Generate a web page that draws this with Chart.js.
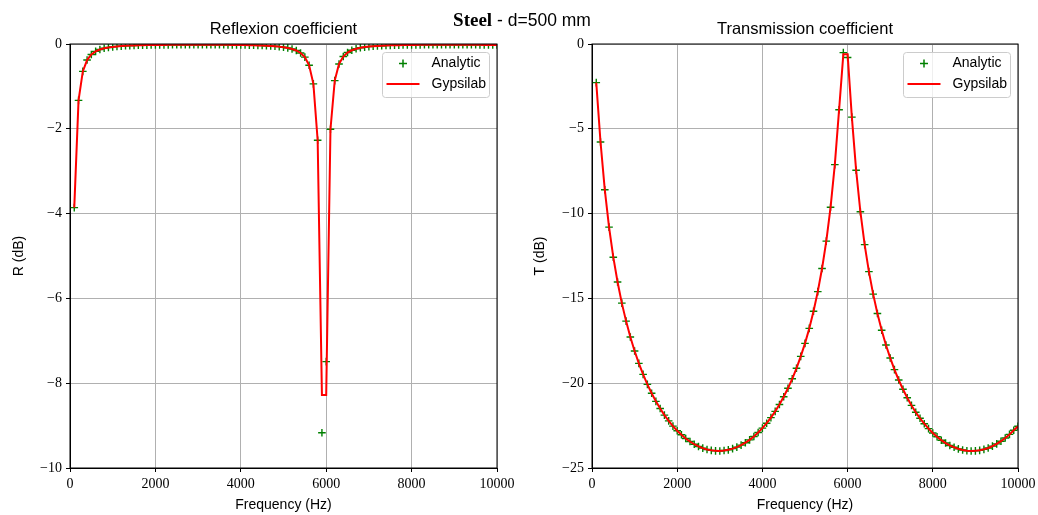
<!DOCTYPE html>
<html>
<head>
<meta charset="utf-8">
<title>Steel - d=500 mm</title>
<script src="https://cdn.jsdelivr.net/npm/chart.js@4.4.1/dist/chart.umd.min.js"></script>
<style>
  html, body { margin: 0; padding: 0; background: #fff; }
  #figure { position: relative; width: 1038px; height: 515px; background: #fff; }
  .panel { position: absolute; top: 0; width: 519px; height: 515px; }
  #suptitle {
    position: absolute; top: 9px; left: 522px; transform: translateX(-50%);
    white-space: nowrap; line-height: 22px; font-family: "Liberation Sans", sans-serif;
    font-size: 17.5px; color: #000; z-index: 2;
  }
  #suptitle b { font-family: "Liberation Serif", serif; font-size: 19px; }
</style>
</head>
<body>
<div id="figure">
  <div class="panel" style="left:0"><canvas id="reflChart"></canvas></div>
  <div class="panel" style="left:519px"><canvas id="transChart"></canvas></div>
  <div id="suptitle"><b>Steel</b> - d=500 mm</div>
</div>
<script>
// frequency grid (Hz)
const freqs = [
  100, 200, 300, 400, 500, 600, 700, 800, 900, 1000,
  1100, 1200, 1300, 1400, 1500, 1600, 1700, 1800, 1900, 2000,
  2100, 2200, 2300, 2400, 2500, 2600, 2700, 2800, 2900, 3000,
  3100, 3200, 3300, 3400, 3500, 3600, 3700, 3800, 3900, 4000,
  4100, 4200, 4300, 4400, 4500, 4600, 4700, 4800, 4900, 5000,
  5100, 5200, 5300, 5400, 5500, 5600, 5700, 5800, 5900, 6000,
  6100, 6200, 6300, 6400, 6500, 6600, 6700, 6800, 6900, 7000,
  7100, 7200, 7300, 7400, 7500, 7600, 7700, 7800, 7900, 8000,
  8100, 8200, 8300, 8400, 8500, 8600, 8700, 8800, 8900, 9000,
  9100, 9200, 9300, 9400, 9500, 9600, 9700, 9800, 9900, 10000
];

// reflexion coefficient R (dB)
const analyticR = [
  -3.86, -1.33, -0.646, -0.378, -0.247, -0.175, -0.131, -0.102, -0.082, -0.068,
  -0.057, -0.049, -0.043, -0.038, -0.034, -0.031, -0.028, -0.026, -0.024, -0.023,
  -0.022, -0.021, -0.020, -0.019, -0.018, -0.018, -0.018, -0.017, -0.017, -0.017,
  -0.017, -0.018, -0.018, -0.018, -0.019, -0.019, -0.020, -0.021, -0.022, -0.024,
  -0.025, -0.027, -0.030, -0.033, -0.036, -0.041, -0.046, -0.053, -0.062, -0.075,
  -0.092, -0.117, -0.153, -0.211, -0.310, -0.501, -0.941, -2.27, -9.17, -7.49,
  -2.01, -0.863, -0.470, -0.295, -0.202, -0.148, -0.113, -0.090, -0.073, -0.061,
  -0.052, -0.045, -0.040, -0.036, -0.032, -0.029, -0.027, -0.025, -0.023, -0.022,
  -0.021, -0.020, -0.019, -0.019, -0.018, -0.018, -0.018, -0.017, -0.017, -0.017,
  -0.017, -0.018, -0.018, -0.018, -0.019, -0.020, -0.021, -0.022, -0.024, -0.025
];
const gypsilabR = [
  -3.86, -1.33, -0.646, -0.378, -0.247, -0.175, -0.131, -0.102, -0.082, -0.068,
  -0.057, -0.049, -0.043, -0.038, -0.034, -0.031, -0.028, -0.026, -0.024, -0.023,
  -0.022, -0.021, -0.020, -0.019, -0.018, -0.018, -0.018, -0.017, -0.017, -0.017,
  -0.017, -0.018, -0.018, -0.018, -0.019, -0.019, -0.020, -0.021, -0.022, -0.024,
  -0.025, -0.027, -0.030, -0.033, -0.036, -0.041, -0.046, -0.053, -0.062, -0.075,
  -0.092, -0.117, -0.153, -0.211, -0.310, -0.501, -0.941, -2.27, -8.28, -8.28,
  -2.01, -0.863, -0.470, -0.295, -0.202, -0.148, -0.113, -0.090, -0.073, -0.061,
  -0.052, -0.045, -0.040, -0.036, -0.032, -0.029, -0.027, -0.025, -0.023, -0.022,
  -0.021, -0.020, -0.019, -0.019, -0.018, -0.018, -0.018, -0.017, -0.017, -0.017,
  -0.017, -0.018, -0.018, -0.018, -0.019, -0.020, -0.021, -0.022, -0.024, -0.025
];

// transmission coefficient T (dB)
const analyticT = [
  -2.28, -5.78, -8.59, -10.80, -12.57, -14.03, -15.28, -16.34, -17.28, -18.10,
  -18.83, -19.48, -20.07, -20.59, -21.07, -21.49, -21.88, -22.22, -22.53, -22.80,
  -23.04, -23.26, -23.44, -23.60, -23.73, -23.83, -23.91, -23.96, -23.99, -24.00,
  -23.97, -23.93, -23.86, -23.77, -23.65, -23.51, -23.34, -23.14, -22.91, -22.65,
  -22.36, -22.03, -21.66, -21.26, -20.80, -20.30, -19.74, -19.12, -18.42, -17.65,
  -16.77, -15.76, -14.60, -13.24, -11.62, -9.63, -7.11, -3.88, -0.51, -0.80,
  -4.31, -7.44, -9.89, -11.83, -13.42, -14.75, -15.89, -16.88, -17.75, -18.51,
  -19.20, -19.81, -20.36, -20.86, -21.31, -21.71, -22.07, -22.39, -22.68, -22.94,
  -23.16, -23.36, -23.53, -23.67, -23.78, -23.87, -23.94, -23.98, -24.00, -23.99,
  -23.96, -23.90, -23.82, -23.71, -23.58, -23.42, -23.23, -23.02, -22.77, -22.54
];
const gypsilabT = [
  -2.28, -5.78, -8.59, -10.80, -12.57, -14.03, -15.28, -16.34, -17.28, -18.10,
  -18.83, -19.48, -20.07, -20.59, -21.07, -21.49, -21.88, -22.22, -22.53, -22.80,
  -23.04, -23.26, -23.44, -23.60, -23.73, -23.83, -23.91, -23.96, -23.99, -24.00,
  -23.97, -23.93, -23.86, -23.77, -23.65, -23.51, -23.34, -23.14, -22.91, -22.65,
  -22.36, -22.03, -21.66, -21.26, -20.80, -20.30, -19.74, -19.12, -18.42, -17.65,
  -16.77, -15.76, -14.60, -13.24, -11.62, -9.63, -7.11, -3.88, -0.60, -0.60,
  -4.31, -7.44, -9.89, -11.83, -13.42, -14.75, -15.89, -16.88, -17.75, -18.51,
  -19.20, -19.81, -20.36, -20.86, -21.31, -21.71, -22.07, -22.39, -22.68, -22.94,
  -23.16, -23.36, -23.53, -23.67, -23.78, -23.87, -23.94, -23.98, -24.00, -23.99,
  -23.96, -23.90, -23.82, -23.71, -23.58, -23.42, -23.23, -23.02, -22.77, -22.54
];

const xTicks = { min: 0, max: 10000, step: 2000 };
const reflTicks = { min: -10, max: 0, step: 2 };
const transTicks = { min: -25, max: 0, step: 5 };

const SANS = '"Liberation Sans", Arial, sans-serif';
const SERIF = '"Liberation Serif", "Times New Roman", serif';

// black frame around the axes (matplotlib spines)
const framePlugin = {
  id: 'frame',
  afterDatasetsDraw(chart) {
    const { ctx, chartArea: a } = chart;
    ctx.save();
    ctx.strokeStyle = '#000';
    ctx.lineWidth = 1;
    ctx.strokeRect(a.left, a.top, a.right - a.left, a.bottom - a.top);
    ctx.restore();
  }
};

// legend box drawn inside the upper right corner of the axes
const boxLegend = {
  id: 'boxLegend',
  afterDatasetsDraw(chart) {
    const { ctx, chartArea: a } = chart;
    const w = 107, h = 45;
    const x = Math.round(a.right - 8 - w) + 0.5;
    const y = Math.round(a.top + 8) + 0.5;
    const sets = chart.data.datasets;
    ctx.save();
    ctx.beginPath();
    ctx.roundRect(x, y, w, h, 3);
    ctx.fillStyle = 'rgba(255,255,255,0.8)';
    ctx.fill();
    ctx.strokeStyle = '#cccccc';
    ctx.lineWidth = 1;
    ctx.stroke();

    // row 1: analytic marker
    const r1 = y + 11, r2 = y + 31.5;
    ctx.strokeStyle = sets[0].borderColor;
    ctx.lineWidth = 1.5;
    ctx.beginPath();
    ctx.moveTo(x + 16.5, r1); ctx.lineTo(x + 24.5, r1);
    ctx.moveTo(x + 20.5, r1 - 4); ctx.lineTo(x + 20.5, r1 + 4);
    ctx.stroke();

    // row 2: gypsilab line
    ctx.strokeStyle = sets[1].borderColor;
    ctx.lineWidth = 2;
    ctx.beginPath();
    ctx.moveTo(x + 4, r2); ctx.lineTo(x + 37, r2);
    ctx.stroke();

    ctx.fillStyle = '#000';
    ctx.font = '14px ' + SANS;
    ctx.textBaseline = 'middle';
    ctx.fillText(sets[0].label, x + 49, r1);
    ctx.fillText(sets[1].label, x + 49, r2);
    ctx.restore();
  }
};

const minusLabel = v => (v < 0 ? '\u2212' + Math.abs(v) : String(v));

function buildChart(canvasId, title, yLabel, values, ticks, pad) {
  const [analytic, gypsilab] = values;
  return new Chart(document.getElementById(canvasId), {
    type: 'line',
    data: {
      datasets: [
        {
          label: 'Analytic',
          data: freqs.map((f, i) => ({ x: f, y: analytic[i] })),
          showLine: false,
          pointStyle: 'cross',
          pointRadius: 3.8,
          borderColor: '#008000',
          pointBorderColor: '#008000',
          pointBorderWidth: 1.4,
          order: 2
        },
        {
          label: 'Gypsilab',
          data: freqs.map((f, i) => ({ x: f, y: gypsilab[i] })),
          borderColor: '#ff0000',
          borderWidth: 2,
          pointRadius: 0,
          tension: 0,
          order: 1
        }
      ]
    },
    options: {
      responsive: true,
      maintainAspectRatio: false,
      animation: false,
      layout: { padding: { left: 0, right: pad.right, top: 0, bottom: 0 } },
      plugins: {
        legend: { display: false },
        tooltip: { enabled: false },
        title: {
          display: true,
          text: title,
          fullSize: false,
          color: '#000',
          font: { family: SANS, size: 16.5, weight: 'normal' },
          padding: { top: 19.6, bottom: 4.6 }
        }
      },
      scales: {
        x: {
          type: 'linear',
          min: xTicks.min,
          max: xTicks.max,
          ticks: {
            stepSize: xTicks.step,
            color: '#000',
            font: { family: SERIF, size: 14 },
            padding: 4,
            maxRotation: 0,
            callback: v => String(v)
          },
          grid: { color: '#b0b0b0', lineWidth: 1, tickColor: '#000', tickLength: 4 },
          border: { color: '#000', width: 1 },
          title: {
            display: true,
            text: 'Frequency (Hz)',
            color: '#000',
            font: { family: SANS, size: 14 },
            padding: { top: 0, bottom: 1 }
          },
          afterFit(scale) {
            scale.height = 47;
            scale.paddingLeft = 0;
            scale.paddingRight = 0;
          }
        },
        y: {
          min: ticks.min,
          max: ticks.max,
          ticks: {
            stepSize: ticks.step,
            color: '#000',
            font: { family: SERIF, size: 14 },
            padding: 4,
            callback: minusLabel
          },
          grid: { color: '#b0b0b0', lineWidth: 1, tickColor: '#000', tickLength: 4 },
          border: { color: '#000', width: 1 },
          title: {
            display: true,
            text: yLabel,
            color: '#000',
            font: { family: SANS, size: 14 },
            padding: { top: pad.yTitle, bottom: 0 }
          },
          afterFit(scale) {
            scale.width = pad.yWidth;
            scale.paddingTop = 0;
            scale.paddingBottom = 0;
          }
        }
      }
    },
    plugins: [framePlugin, boxLegend]
  });
}

buildChart('reflChart', 'Reflexion coefficient', 'R (dB)', [analyticR, gypsilabR], reflTicks,
  { right: 22, yWidth: 70, yTitle: 10.6 });
buildChart('transChart', 'Transmission coefficient', 'T (dB)', [analyticT, gypsilabT], transTicks,
  { right: 20, yWidth: 73, yTitle: 12.6 });
</script>
</body>
</html>
